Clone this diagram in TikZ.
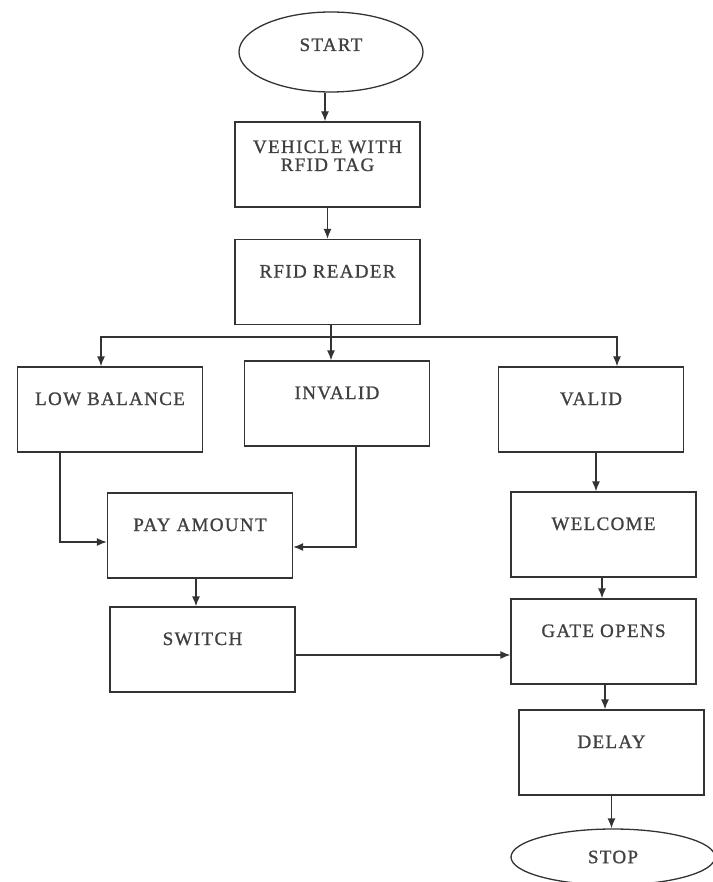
\documentclass[tikz,border=0pt]{standalone}
\usepackage{fontspec}
\setmainfont{Liberation Serif}[LetterSpace=7,FakeBold=1]
\usepackage{xcolor}
\usepackage{tikz}
\usetikzlibrary{positioning}
\usetikzlibrary{arrows.meta}
\usetikzlibrary{shapes}

\begin{document}
\begin{tikzpicture}[x=1pt,y=-1pt,font=\fontsize{19}{18}\selectfont,
      box style/.style={rectangle,draw=black!80,line width=1.3pt,text=black!75,
        minimum width=185pt,minimum height=85pt,inner ysep=26pt,
        text height=12pt,text depth=21pt,align=center},
      term style/.style={ellipse,draw=black!80,line width=1.3pt,text=black!75,
        minimum width=184pt,minimum height=80pt},
      flow/.style={draw=black!80,line width=1.3pt,-{Latex[length=10pt,width=8pt]}},
      line style/.style={draw=black!80,line width=1.3pt}
      ]
      \useasboundingbox (0,0) rectangle (712,882);

      \node[term style, text height=12pt, text depth=14pt] (start) at (331,52) {START};
      \node[box style, inner ysep=19pt, text height=30pt, text depth=17pt] (vehicle)
        at (327.5,164.5) {VEHICLE WITH\\RFID TAG};
      \node[box style, minimum height=84pt] (rfid) at (327.5,282) {RFID READER};

      \draw[flow] ([xshift=-6pt]start.south) -- ([xshift=-2.5pt]vehicle.north);
      \draw[flow] (vehicle.south) -- (rfid.north);

      \node[box style] (low) at (110,409.5) {LOW BALANCE};
      \node[box style] (invalid) at (337,403.5) {INVALID};
      \node[box style] (valid) at (591,409.5) {VALID};

      \coordinate (split) at (331,337);
      \draw[line style] ([xshift=3.5pt]rfid.south) -- (split);
      \draw[flow] (split) -| ([xshift=-9pt]low.north);
      \draw[flow] (split) -| ([xshift=26pt]valid.north);
      \draw[flow] (split) -- (split |- invalid.north);

      \node[box style] (pay) at (200,535.5) {PAY AMOUNT};
      \node[box style] (switch) at (202.5,649.5) {SWITCH};

      \draw[flow] ([xshift=-50pt]low.south) |- ([yshift=-6.5pt]pay.west);
      \draw[flow] ([xshift=19pt]invalid.south) |- ([yshift=-11.5pt]pay.east);
      \draw[flow] ([xshift=-4pt]pay.south) -- ([xshift=-6.5pt]switch.north);

      \node[box style] (welcome) at (603.5,534.5) {WELCOME};
      \node[box style] (gate) at (603.5,641.5) {GATE OPENS};
      \node[box style] (delay) at (611.5,752.5) {DELAY};
      \node[term style, minimum width=204pt, minimum height=56pt] (stop) at (613,857) {STOP};

      \draw[flow] ([xshift=5pt]valid.south) -- ([xshift=-7.5pt]welcome.north);
      \draw[flow] ([xshift=-1.5pt]welcome.south) -- ([xshift=-1.5pt]gate.north);
      \draw[flow] ([yshift=-5.5pt]switch.east) -- ([yshift=-13.5pt]gate.west);
      \draw[flow] ([xshift=1.5pt]gate.south) -- ([xshift=-6.5pt]delay.north);
      \draw[flow] (delay.south) -- (delay.south |- stop.north);

    \end{tikzpicture}
\end{document}
